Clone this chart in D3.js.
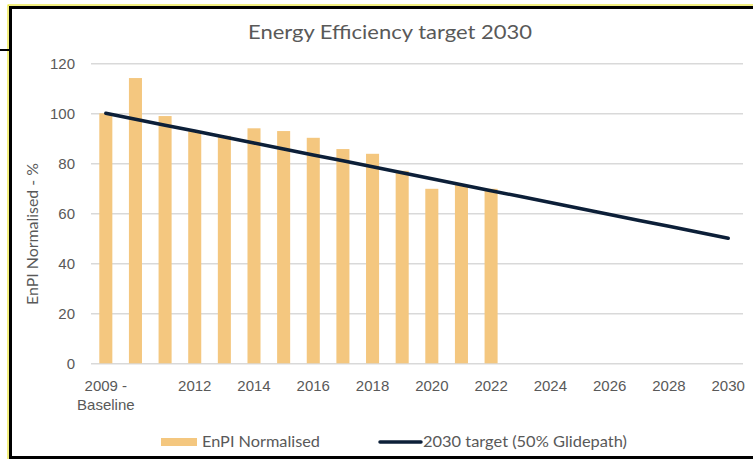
<!DOCTYPE html>
<html>
<head>
  <meta charset="utf-8">
  <title>Energy Efficiency target 2030</title>
  <script src="https://d3js.org/d3.v7.min.js"></script>
  <style>
    body { margin: 0; background: #fff; }
    svg { display: block; font-family: Lato, "Open Sans", sans-serif; }
    .tick text { fill: #595959; font-size: 15px; }
  </style>
</head>
<body>
  <div id="chart"></div>

  <script>
    // Categories (years) and values
    var categories = ["2009 - Baseline", "2010", "2011", "2012", "2013", "2014", "2015", "2016",
      "2017", "2018", "2019", "2020", "2021", "2022", "2023", "2024", "2025", "2026",
      "2027", "2028", "2029", "2030"];
    var tickLabels = ["2009 - Baseline", "2012", "2014", "2016", "2018", "2020", "2022",
      "2024", "2026", "2028", "2030"];
    var enpi = [100, 114.1, 98.9, 92.8, 91, 94, 92.9, 90.2, 85.7, 83.8, 77, 69.8, 71.3, 69.8];
    var glidepath = [100, 97.6, 95.2, 92.9, 90.5, 88.1, 85.7, 83.3, 81.0, 78.6, 76.2,
      73.8, 71.4, 69.0, 66.7, 64.3, 61.9, 59.5, 57.1, 54.8, 52.4, 50];
    var yTicks = [0, 20, 40, 60, 80, 100, 120];

    var W = 753, H = 459;
    var plotLeft = 91, plotRight = 743, plotTop = 63.3, plotBottom = 363.3;

    var svg = d3.select("#chart").append("svg")
      .attr("width", W)
      .attr("height", H);

    // frame: yellow outer line, black border
    svg.append("rect").attr("x", 8).attr("y", 5).attr("width", 760).attr("height", 460)
      .attr("fill", "none").attr("stroke", "#e8e000").attr("stroke-width", 1);
    svg.append("rect").attr("x", 10.5).attr("y", 7.5).attr("width", 760).attr("height", 450)
      .attr("fill", "none").attr("stroke", "#000").attr("stroke-width", 3);
    svg.append("line").attr("x1", 0).attr("x2", 9).attr("y1", 50).attr("y2", 50)
      .attr("stroke", "#000").attr("stroke-width", 2);

    var x = d3.scaleBand().domain(categories).range([plotLeft, plotRight])
      .paddingInner(0.56).paddingOuter(0.28);
    var y = d3.scaleLinear().domain([0, 120]).range([plotBottom, plotTop]);

    // gridlines + y labels
    var yAxis = d3.axisLeft(y).tickValues(yTicks).tickSize(-(plotRight - plotLeft)).tickPadding(16);
    var gy = svg.append("g").attr("transform", "translate(" + plotLeft + ",0)").call(yAxis);
    gy.select(".domain").remove();
    gy.selectAll(".tick line").attr("stroke", "#d9d9d9").attr("stroke-width", 1.5);

    // x labels
    var xAxis = d3.axisBottom(x).tickValues(tickLabels).tickSize(0).tickPadding(17);
    var gx = svg.append("g").attr("transform", "translate(0," + plotBottom + ")").call(xAxis);
    gx.select(".domain").remove();
    gx.selectAll(".tick text").each(function(d) {
      var parts = d.split(" - ");
      if (parts.length > 1) {
        var t = d3.select(this).text(null);
        t.append("tspan").attr("x", 0).attr("dy", "0.71em").text(parts[0] + " -");
        t.append("tspan").attr("x", 0).attr("dy", "1.3em").text(parts[1]);
      }
    });

    // bars
    svg.selectAll(".bar")
      .data(enpi)
      .enter().append("rect")
      .attr("class", "bar")
      .attr("x", function(d, i) { return x(categories[i]); })
      .attr("y", function(d) { return y(d); })
      .attr("width", x.bandwidth())
      .attr("height", function(d) { return y(0) - y(d); })
      .attr("fill", "#f4c77f");

    // glidepath line
    var line = d3.line()
      .x(function(d, i) { return x(categories[i]) + x.bandwidth() / 2; })
      .y(function(d) { return y(d); });
    svg.append("path")
      .datum(glidepath)
      .attr("d", line)
      .attr("fill", "none")
      .attr("stroke", "#0c1f38")
      .attr("stroke-width", 3.5)
      .attr("stroke-linecap", "round");

    // title
    svg.append("text")
      .attr("x", 390).attr("y", 39)
      .attr("text-anchor", "middle")
      .attr("fill", "#595959")
      .attr("font-size", 19)
      .attr("textLength", 284).attr("lengthAdjust", "spacingAndGlyphs")
      .text("Energy Efficiency target 2030");

    // y axis title
    svg.append("text")
      .attr("transform", "translate(38,234) rotate(-90)")
      .attr("text-anchor", "middle")
      .attr("fill", "#595959")
      .attr("font-size", 15)
      .attr("textLength", 142).attr("lengthAdjust", "spacingAndGlyphs")
      .text("EnPI Normalised - %");

    // legend
    var lg = svg.append("g");
    lg.append("rect").attr("x", 161).attr("y", 438).attr("width", 36).attr("height", 8)
      .attr("fill", "#f4c77f");
    lg.append("text").attr("x", 202).attr("y", 447).attr("fill", "#595959")
      .attr("font-size", 15).attr("textLength", 118).attr("lengthAdjust", "spacingAndGlyphs")
      .text("EnPI Normalised");
    lg.append("line").attr("x1", 380).attr("x2", 421).attr("y1", 442).attr("y2", 442)
      .attr("stroke", "#0c1f38").attr("stroke-width", 3.5).attr("stroke-linecap", "round");
    lg.append("text").attr("x", 423).attr("y", 447).attr("fill", "#595959")
      .attr("font-size", 15).attr("textLength", 204).attr("lengthAdjust", "spacingAndGlyphs")
      .text("2030 target (50% Glidepath)");
  </script>
</body>
</html>
